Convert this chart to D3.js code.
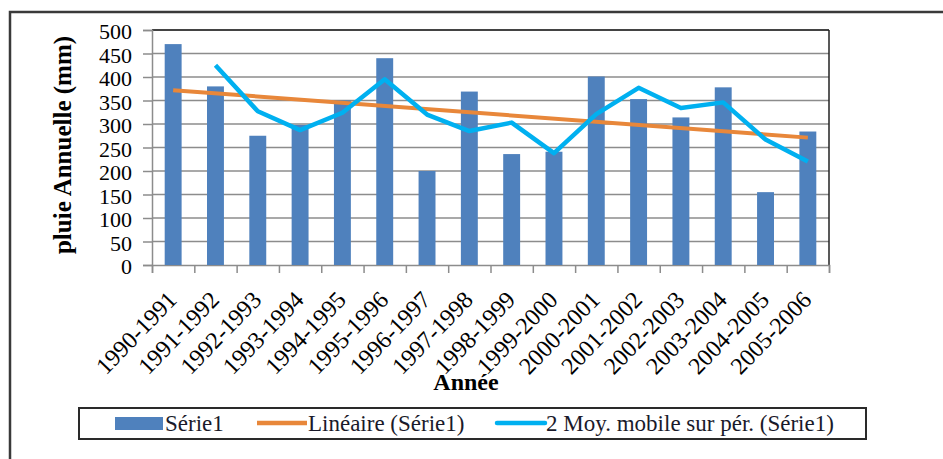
<!DOCTYPE html>
<html><head><meta charset="utf-8">
<script src="https://cdn.jsdelivr.net/npm/d3@7"></script>
<style>
html,body{margin:0;padding:0;background:#fff;}
svg{display:block;}
text{font-family:"Liberation Serif","Times New Roman",serif;}
</style></head>
<body>
<svg id="chart" width="943" height="459"></svg>
<script>
const categories = ["1990-1991","1991-1992","1992-1993","1993-1994","1994-1995","1995-1996","1996-1997","1997-1998","1998-1999","1999-2000","2000-2001","2001-2002","2002-2003","2003-2004","2004-2005","2005-2006"];
const rainfall = [470,380,275,298,350,440,200,369,236,241,401,353,314,378,155,284];
const movingAvg = [null,425,327,287,324,395,320,285,303,238,321,377,334,346,267,220];
const trendCats = ["1990-1991","2005-2006"];
const trendValues = [372,271];
const yTicks = [0,50,100,150,200,250,300,350,400,450,500];
const legendLabels = ["Série1","Linéaire (Série1)","2 Moy. mobile sur pér. (Série1)"];
const yTitle = "pluie Annuelle (mm)";
const xTitle = "Année";

const svg = d3.select("#chart");
const L = 152, R = 829, T = 30, B = 265;

// outer frame
svg.append("rect").attr("x",10).attr("y",12).attr("width",950).attr("height",470)
  .attr("fill","none").attr("stroke","#3a3a3a").attr("stroke-width",2.5);

const x = d3.scaleBand().domain(categories).range([L,R]).paddingInner(0.6).paddingOuter(0.3);
const xb = d3.scaleBand().domain(categories).range([L,R]).padding(0);
const xt = d3.scaleLinear().domain([0,categories.length]).range([L,R]);
const y = d3.scaleLinear().domain([0,500]).range([B,T]);
const cx = c => x(c) + x.bandwidth()/2;

// gridlines
svg.append("g").selectAll("line").data(yTicks.filter(v=>v>0)).join("line")
  .attr("x1",L).attr("x2",R).attr("y1",d=>y(d)).attr("y2",d=>y(d))
  .attr("stroke","#8c8c8c").attr("stroke-width",1.5);

// plot border top/right
svg.append("line").attr("x1",L).attr("x2",R).attr("y1",T).attr("y2",T).attr("stroke","#222").attr("stroke-width",1.5);
svg.append("line").attr("x1",R).attr("x2",R).attr("y1",T).attr("y2",B).attr("stroke","#222").attr("stroke-width",1.5);

// y axis
const yAxis = svg.append("g").attr("transform",`translate(${L},0)`)
  .call(d3.axisLeft(y).tickValues(yTicks).tickSize(9).tickPadding(11));
yAxis.attr("font-family",null);
yAxis.select(".domain").attr("stroke","#8c8c8c").attr("stroke-width",1.5);
yAxis.selectAll(".tick line").attr("stroke","#8c8c8c").attr("stroke-width",1.5);
yAxis.selectAll(".tick text").attr("font-size",22).attr("fill","#000").attr("dy","0.4em");

// x axis ticks
const xAxisT = svg.append("g").attr("transform",`translate(0,${B})`)
  .call(d3.axisBottom(xt).tickValues(d3.range(categories.length+1)).tickSize(8).tickFormat(""));
xAxisT.select(".domain").attr("stroke","#8c8c8c").attr("stroke-width",1.5);
xAxisT.selectAll(".tick line").attr("stroke","#8c8c8c").attr("stroke-width",1.5);

// bars
svg.append("g").selectAll("rect").data(rainfall).join("rect")
  .attr("x",(d,i)=>x(categories[i])).attr("width",x.bandwidth())
  .attr("y",d=>y(d)).attr("height",d=>B-y(d)).attr("fill","#4f81bd");

// x labels
const xAxisL = svg.append("g").attr("transform",`translate(0,${B})`)
  .call(d3.axisBottom(xb).tickSize(0).tickPadding(0));
xAxisL.attr("font-family",null);
xAxisL.select(".domain").remove();
xAxisL.selectAll(".tick text").attr("font-size",24).attr("fill","#000")
  .attr("text-anchor","end").attr("dy",0).attr("y",0)
  .attr("transform","translate(5,36) rotate(-46)");

// trend line
const trendData = trendCats.map((c,i)=>[cx(c), y(trendValues[i])]);
svg.append("path").attr("d",d3.line()(trendData)).attr("fill","none")
  .attr("stroke","#e8873a").attr("stroke-width",4);

// moving average
const maData = movingAvg.map((v,i)=>v==null?null:[cx(categories[i]), y(v)]).filter(d=>d);
svg.append("path").attr("d",d3.line()(maData)).attr("fill","none")
  .attr("stroke","#00b0f0").attr("stroke-width",4.5).attr("stroke-linejoin","round");

// axis titles
svg.append("text").attr("transform","translate(71,145) rotate(-90)")
  .attr("text-anchor","middle").attr("font-weight","bold").attr("font-size",25).text(yTitle);
svg.append("text").attr("x",466).attr("y",390).attr("text-anchor","middle")
  .attr("font-weight","bold").attr("font-size",24).text(xTitle);

// legend
const lg = svg.append("g");
lg.append("rect").attr("x",79).attr("y",408).attr("width",787).attr("height",31)
  .attr("fill","#fff").attr("stroke","#2a2a2a").attr("stroke-width",2);
lg.append("rect").attr("x",115).attr("y",417).attr("width",48).attr("height",13).attr("fill","#4f81bd");
lg.append("text").attr("x",165).attr("y",431).attr("font-size",23).attr("fill","#1a1a2a").text(legendLabels[0]);
lg.append("line").attr("x1",257).attr("x2",307).attr("y1",423).attr("y2",423)
  .attr("stroke","#e8873a").attr("stroke-width",4.5);
lg.append("text").attr("x",308).attr("y",431).attr("font-size",23).attr("fill","#1a1a2a").text(legendLabels[1]);
lg.append("line").attr("x1",497).attr("x2",545).attr("y1",423).attr("y2",423)
  .attr("stroke","#00b0f0").attr("stroke-width",4.5).attr("stroke-linecap","round");
lg.append("text").attr("x",546).attr("y",431).attr("font-size",23).attr("fill","#1a1a2a").text(legendLabels[2]);
</script>
</body></html>
